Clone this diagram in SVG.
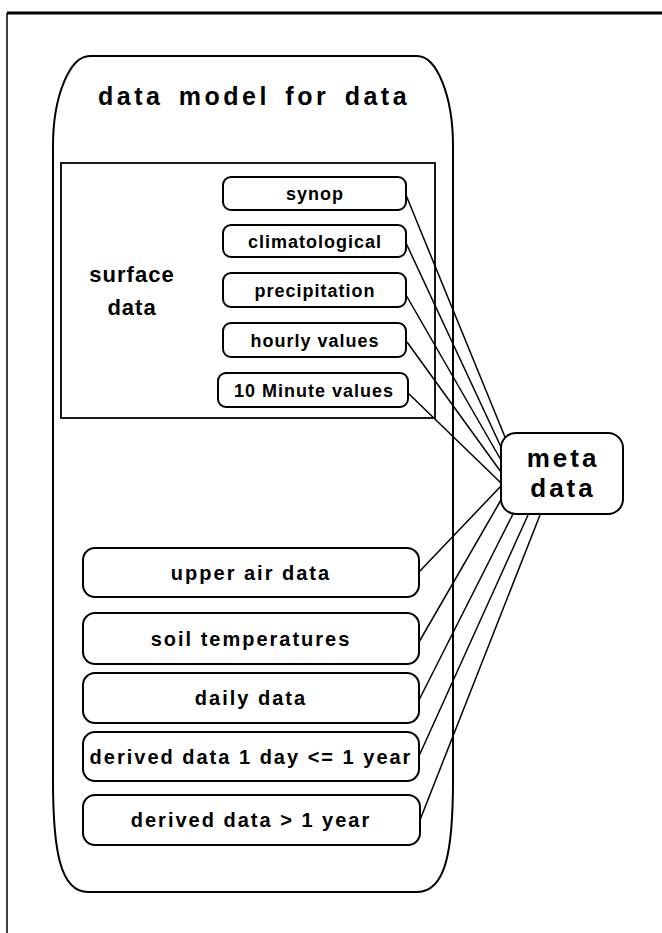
<svg xmlns="http://www.w3.org/2000/svg" width="662" height="933" viewBox="0 0 662 933">
<style>
  text { font-family: "Liberation Sans", Arial, sans-serif; font-weight: bold; fill: #000; text-anchor: middle; }
  .box { fill: #fff; stroke: #000; stroke-width: 2; }
  .small { font-size: 18px; letter-spacing: 1px; }
  .big { font-size: 20px; letter-spacing: 2px; }
  .conn line { stroke: #000; stroke-width: 1.5; }
</style>
<rect width="662" height="933" fill="#fff"/>
<g id="frame">
  <line x1="7" y1="13" x2="662" y2="13" stroke="#000" stroke-width="3"/>
  <line x1="7" y1="13" x2="7" y2="933" stroke="#000" stroke-width="1.5"/>
</g>
<g id="container">
  <path d="M90,56 L417,56 A36 90 0 0 1 453,146 L453,780 C453,850 446,892 417,892 L88,892 C60,892 53,850 53,780 L53,146 A37 90 0 0 1 90,56 Z" fill="none" stroke="#000" stroke-width="2"/>
  <text x="254" y="105" style="font-size:25px;letter-spacing:3.5px;word-spacing:5px">data model for data</text>
</g>
<g id="surface-data">
  <rect x="61" y="163" width="374" height="255" fill="none" stroke="#000" stroke-width="1.8"/>
  <text x="132" y="282" style="font-size:22px;letter-spacing:1px">surface</text>
  <text x="132" y="315" style="font-size:22px;letter-spacing:1px">data</text>
</g>
<g class="conn" id="connectors">
  <line x1="406" y1="195" x2="505" y2="437"/>
  <line x1="406" y1="243" x2="501" y2="447"/>
  <line x1="406" y1="295" x2="501" y2="460"/>
  <line x1="407" y1="342" x2="501" y2="472"/>
  <line x1="408" y1="393" x2="501" y2="483"/>
  <line x1="419" y1="572" x2="501" y2="486"/>
  <line x1="419" y1="642" x2="501" y2="500"/>
  <line x1="419" y1="700" x2="513" y2="514"/>
  <line x1="419" y1="756" x2="528" y2="515"/>
  <line x1="420" y1="820" x2="540" y2="515"/>
</g>
<g id="synop"><rect class="box" x="223" y="177" width="183" height="33" rx="8"/><text class="small" x="315" y="200">synop</text></g>
<g id="climatological"><rect class="box" x="223" y="225" width="183" height="32" rx="8"/><text class="small" x="315" y="248">climatological</text></g>
<g id="precipitation"><rect class="box" x="223" y="273" width="183" height="34" rx="8"/><text class="small" x="315" y="297">precipitation</text></g>
<g id="hourly-values"><rect class="box" x="223" y="323" width="183" height="34" rx="8"/><text class="small" x="315" y="347">hourly values</text></g>
<g id="ten-minute-values"><rect class="box" x="218" y="373" width="190" height="34" rx="8"/><text class="small" x="314" y="397">10 Minute values</text></g>
<g id="meta-data"><rect class="box" x="501" y="433" width="122" height="81" rx="15"/>
  <text x="563" y="467" style="font-size:26px;letter-spacing:3px">meta</text>
  <text x="563" y="497" style="font-size:26px;letter-spacing:3px">data</text></g>
<g id="upper-air-data"><rect class="box" x="83" y="548" width="336" height="49" rx="12"/><text class="big" x="251" y="580">upper air data</text></g>
<g id="soil-temperatures"><rect class="box" x="83" y="613" width="336" height="51" rx="12"/><text class="big" x="251" y="646">soil temperatures</text></g>
<g id="daily-data"><rect class="box" x="83" y="673" width="336" height="50" rx="12"/><text class="big" x="251" y="705">daily data</text></g>
<g id="derived-1"><rect class="box" x="83" y="732" width="336" height="49" rx="12"/><text class="big" x="251" y="764">derived data 1 day &lt;= 1 year</text></g>
<g id="derived-2"><rect class="box" x="83" y="795" width="337" height="50" rx="12"/><text class="big" x="251" y="827">derived data &gt; 1 year</text></g>
</svg>
